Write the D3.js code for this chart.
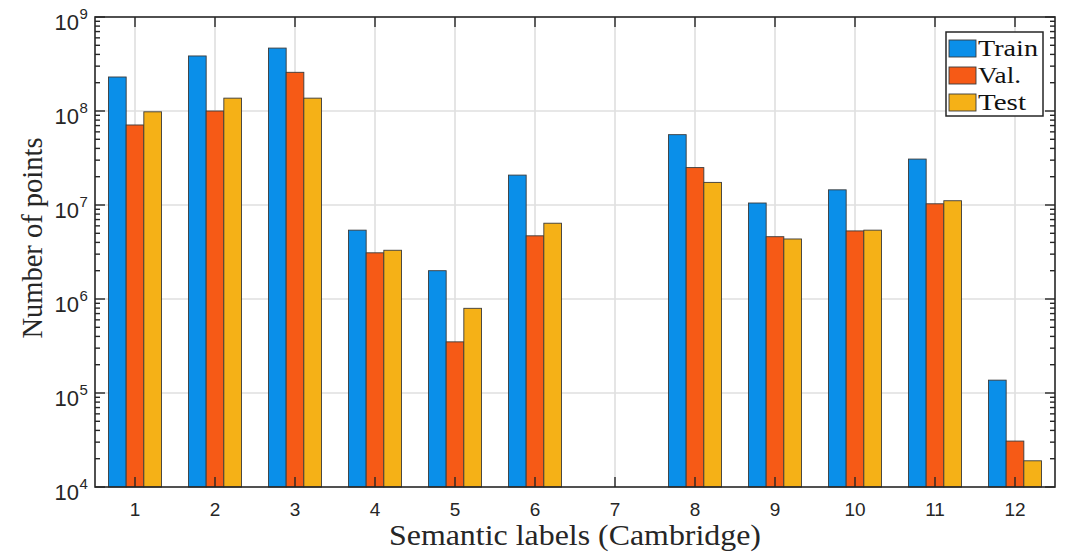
<!DOCTYPE html>
<html>
<head>
<meta charset="utf-8">
<script src="https://cdn.jsdelivr.net/npm/d3@7"></script>
<style>
  html, body { margin: 0; padding: 0; background: #fff; }
  svg { display: block; }
</style>
</head>
<body>
<svg id="chart" width="1071" height="555"></svg>
<script>
// ---- data ----
const categories = ["1","2","3","4","5","6","7","8","9","10","11","12"];
const seriesNames = ["Train","Val.","Test"];
const trainValues = [2.3e8, 3.85e8, 4.67e8, 5.4e6, 2.0e6, 2.08e7, null, 5.6e7, 1.05e7, 1.45e7, 3.08e7, 1.37e5];
const valValues   = [7.1e7, 1.0e8, 2.58e8, 3.1e6, 3.5e5, 4.7e6, null, 2.5e7, 4.6e6, 5.3e6, 1.03e7, 3.08e4];
const testValues  = [9.8e7, 1.37e8, 1.37e8, 3.3e6, 7.96e5, 6.4e6, null, 1.74e7, 4.35e6, 5.4e6, 1.11e7, 1.9e4];
const yTickExponents = [4,5,6,7,8,9];
const xLabel = "Semantic labels (Cambridge)";
const yLabel = "Number of points";

const seriesColors = ["#0a8fe9", "#f65a16", "#f5b117"];
const seriesValues = [trainValues, valValues, testValues];
const legendTextWidths = [60, 43, 48];

(function () {
// ---- layout ----
const pL = 95, pR = 1055, pT = 17, pB = 487;
const svg = d3.select("#chart");
const axisColor = "#262626";

const x = d3.scaleBand().domain(categories).range([pL, pR]).padding(0);
const groupW = x.bandwidth() * 0.6625;
const xInner = d3.scaleBand().domain(seriesNames).range([-groupW/2, groupW/2]).padding(0);
const y = d3.scaleLog().domain([1e4, 1e9]).range([pB, pT]);

// grid
const grid = svg.append("g");
grid.selectAll("line.v").data(categories).enter().append("line")
  .attr("x1", d => x(d) + x.bandwidth()/2).attr("x2", d => x(d) + x.bandwidth()/2)
  .attr("y1", pT).attr("y2", pB)
  .attr("stroke", "#dfdfdf").attr("stroke-width", 1.6);
grid.selectAll("line.h").data(yTickExponents.slice(1, -1)).enter().append("line")
  .attr("x1", pL).attr("x2", pR)
  .attr("y1", d => y(Math.pow(10, d))).attr("y2", d => y(Math.pow(10, d)))
  .attr("stroke", "#dfdfdf").attr("stroke-width", 1.6);

// bars
const barData = [];
categories.forEach((c, i) => {
  seriesNames.forEach((s, j) => {
    const v = seriesValues[j][i];
    if (v != null && v > 0) barData.push({c, s, v, color: seriesColors[j]});
  });
});
svg.append("g").selectAll("rect").data(barData).enter().append("rect")
  .attr("x", d => x(d.c) + x.bandwidth()/2 + xInner(d.s))
  .attr("width", xInner.bandwidth())
  .attr("y", d => y(d.v))
  .attr("height", d => pB - y(d.v))
  .attr("fill", d => d.color)
  .attr("stroke", "#3a3a3a").attr("stroke-width", 0.9);

// axes box
svg.append("rect").attr("x", pL).attr("y", pT)
  .attr("width", pR - pL).attr("height", pB - pT)
  .attr("fill", "none").attr("stroke", axisColor).attr("stroke-width", 1.6);

// ticks
const tk = svg.append("g").attr("stroke", axisColor).attr("stroke-width", 1.4);
categories.forEach(c => {
  const cx = x(c) + x.bandwidth()/2;
  tk.append("line").attr("x1", cx).attr("x2", cx).attr("y1", pB).attr("y2", pB - 10);
  tk.append("line").attr("x1", cx).attr("x2", cx).attr("y1", pT).attr("y2", pT + 10);
});
yTickExponents.forEach(e => {
  const yy = y(Math.pow(10, e));
  tk.append("line").attr("x1", pL).attr("x2", pL + 10).attr("y1", yy).attr("y2", yy);
  tk.append("line").attr("x1", pR).attr("x2", pR - 10).attr("y1", yy).attr("y2", yy);
  if (e < 9) {
    for (let k = 2; k <= 9; k++) {
      const ym = y(k * Math.pow(10, e));
      tk.append("line").attr("x1", pL).attr("x2", pL + 5).attr("y1", ym).attr("y2", ym);
      tk.append("line").attr("x1", pR).attr("x2", pR - 5).attr("y1", ym).attr("y2", ym);
    }
  }
});

// x tick labels
svg.append("g").selectAll("text").data(categories).enter().append("text")
  .attr("x", d => x(d) + x.bandwidth()/2).attr("y", 516)
  .attr("text-anchor", "middle")
  .attr("font-family", "'Liberation Sans', Arial, sans-serif")
  .attr("font-size", 19).attr("fill", axisColor)
  .text(d => d);

// y tick labels
const yl = svg.append("g")
  .attr("font-family", "'Liberation Sans', Arial, sans-serif").attr("fill", axisColor);
yTickExponents.forEach(e => {
  const yy = y(Math.pow(10, e));
  yl.append("text").attr("x", 79).attr("y", yy + 13)
    .attr("text-anchor", "end").attr("font-size", 22).text("10");
  yl.append("text").attr("x", 79.5).attr("y", yy + 2)
    .attr("text-anchor", "start").attr("font-size", 15).text(String(e));
});

// axis labels
svg.append("text").attr("x", (pL + pR)/2).attr("y", 545)
  .attr("text-anchor", "middle")
  .attr("font-family", "'Liberation Serif', 'Times New Roman', serif")
  .attr("font-size", 29).attr("fill", axisColor)
  .attr("textLength", 372).attr("lengthAdjust", "spacingAndGlyphs")
  .text(xLabel);
svg.append("text").attr("transform", "translate(42,238) rotate(-90)")
  .attr("text-anchor", "middle")
  .attr("font-family", "'Liberation Serif', 'Times New Roman', serif")
  .attr("font-size", 29).attr("fill", axisColor)
  .attr("textLength", 201).attr("lengthAdjust", "spacingAndGlyphs")
  .text(yLabel);

// legend
const lg = svg.append("g");
lg.append("rect").attr("x", 946).attr("y", 32).attr("width", 97).attr("height", 84)
  .attr("fill", "#fff").attr("stroke", axisColor).attr("stroke-width", 1.5);
seriesNames.forEach((s, j) => {
  const ry = 40 + j * 27;
  lg.append("rect").attr("x", 949).attr("y", ry).attr("width", 27).attr("height", 17)
    .attr("fill", seriesColors[j]).attr("stroke", "#3a3a3a").attr("stroke-width", 0.9);
  lg.append("text").attr("x", 978).attr("y", ry + 15.5)
    .attr("font-family", "'Liberation Serif', 'Times New Roman', serif")
    .attr("font-size", 24).attr("fill", "#111")
    .attr("textLength", legendTextWidths[j]).attr("lengthAdjust", "spacingAndGlyphs")
    .text(s);
});
})();
</script>
</body>
</html>
